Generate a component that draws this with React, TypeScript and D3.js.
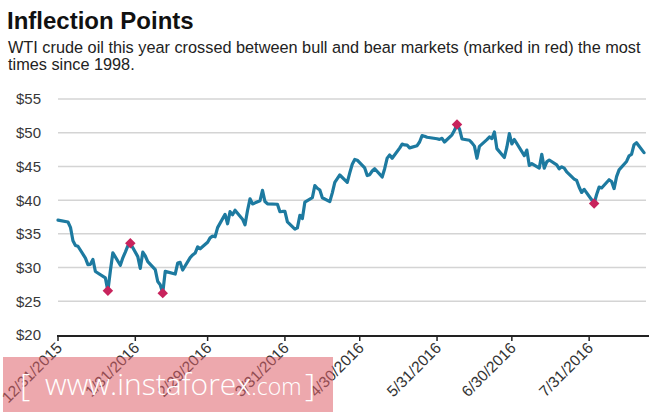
import React from 'react';
import * as d3 from 'd3';

// WTI front-month settle, 12/31/2015 - 8/22/2016
const dates = [
  '2015-12-31',
  '2016-01-04', '2016-01-05', '2016-01-06', '2016-01-07', '2016-01-08', '2016-01-11', '2016-01-12', '2016-01-13', '2016-01-14', '2016-01-15',
  '2016-01-19', '2016-01-20', '2016-01-21', '2016-01-22', '2016-01-25', '2016-01-26', '2016-01-27', '2016-01-28', '2016-01-29',
  '2016-02-01', '2016-02-02', '2016-02-03', '2016-02-04', '2016-02-05', '2016-02-08', '2016-02-09', '2016-02-10', '2016-02-11', '2016-02-12',
  '2016-02-16', '2016-02-17', '2016-02-18', '2016-02-19', '2016-02-22', '2016-02-23', '2016-02-24', '2016-02-25', '2016-02-26', '2016-02-29',
  '2016-03-01', '2016-03-02', '2016-03-03', '2016-03-04', '2016-03-07', '2016-03-08', '2016-03-09', '2016-03-10', '2016-03-11',
  '2016-03-14', '2016-03-15', '2016-03-16', '2016-03-17', '2016-03-18', '2016-03-21', '2016-03-22', '2016-03-23', '2016-03-24',
  '2016-03-28', '2016-03-29', '2016-03-30', '2016-03-31', '2016-04-01',
  '2016-04-04', '2016-04-05', '2016-04-06', '2016-04-07', '2016-04-08', '2016-04-11', '2016-04-12', '2016-04-13', '2016-04-14', '2016-04-15',
  '2016-04-18', '2016-04-19', '2016-04-20', '2016-04-21', '2016-04-22', '2016-04-25', '2016-04-26', '2016-04-27', '2016-04-28', '2016-04-29',
  '2016-05-02', '2016-05-03', '2016-05-04', '2016-05-05', '2016-05-06', '2016-05-09', '2016-05-10', '2016-05-11', '2016-05-12', '2016-05-13',
  '2016-05-16', '2016-05-17', '2016-05-18', '2016-05-19', '2016-05-20', '2016-05-23', '2016-05-24', '2016-05-25', '2016-05-26', '2016-05-27',
  '2016-05-31', '2016-06-01', '2016-06-02', '2016-06-03', '2016-06-06', '2016-06-07', '2016-06-08', '2016-06-09', '2016-06-10',
  '2016-06-13', '2016-06-14', '2016-06-15', '2016-06-16', '2016-06-17', '2016-06-20', '2016-06-21', '2016-06-22', '2016-06-23', '2016-06-24',
  '2016-06-27', '2016-06-28', '2016-06-29', '2016-06-30', '2016-07-01', '2016-07-05', '2016-07-06', '2016-07-07', '2016-07-08',
  '2016-07-11', '2016-07-12', '2016-07-13', '2016-07-14', '2016-07-15', '2016-07-18', '2016-07-19', '2016-07-20', '2016-07-21', '2016-07-22',
  '2016-07-25', '2016-07-26', '2016-07-27', '2016-07-28', '2016-07-29', '2016-08-01', '2016-08-02', '2016-08-03', '2016-08-04', '2016-08-05',
  '2016-08-08', '2016-08-09', '2016-08-10', '2016-08-11', '2016-08-12', '2016-08-15', '2016-08-16', '2016-08-17', '2016-08-18', '2016-08-19',
  '2016-08-22',
];

const prices = [
  37.04,
  36.76, 35.97, 33.97, 33.27, 33.16, 31.41, 30.44, 30.48, 31.2, 29.42,
  28.46, 26.55, 29.53, 32.19, 30.34, 31.45, 32.3, 33.22, 33.62,
  31.62, 29.88, 32.28, 31.72, 30.89, 29.69, 27.94, 27.45, 26.21, 29.44,
  29.04, 30.66, 30.77, 29.64, 31.48, 31.87, 32.15, 33.07, 32.78, 33.75,
  34.4, 34.66, 34.57, 35.92, 37.9, 36.5, 38.29, 37.84, 38.5,
  37.18, 36.34, 38.46, 40.2, 39.44, 39.91, 41.45, 39.79, 39.46,
  39.39, 38.28, 38.32, 38.34, 36.79,
  35.7, 35.89, 37.75, 37.26, 39.72, 40.36, 42.17, 41.76, 41.5, 40.36,
  39.78, 41.08, 42.63, 43.18, 43.73, 42.64, 44.04, 45.33, 46.03, 45.92,
  44.78, 43.65, 43.78, 44.32, 44.66, 43.44, 44.66, 46.23, 46.7, 46.21,
  47.72, 48.31, 48.19, 48.16, 47.75, 48.08, 48.62, 49.56, 49.48, 49.33,
  49.1, 49.01, 49.17, 48.62, 49.69, 50.36, 51.23, 50.56, 49.07,
  48.88, 48.49, 48.01, 46.21, 47.98, 48.97, 49.37, 49.13, 50.11, 47.64,
  46.33, 47.85, 49.88, 48.33, 48.99, 46.6, 47.43, 45.14, 45.41,
  44.76, 46.8, 44.75, 45.68, 45.95, 45.24, 44.65, 44.94, 44.75, 44.19,
  43.13, 42.92, 41.92, 41.14, 41.6, 40.06, 39.51, 40.83, 41.93, 41.8,
  43.02, 42.77, 41.71, 43.49, 44.49, 45.74, 46.58, 46.79, 48.22, 48.52,
  47.05,
];

// bull/bear crossings, marked in red
const markerDates = ['2016-01-20', '2016-01-29', '2016-02-11', '2016-06-08', '2016-08-02'];

const tickDates = ['2015-12-31', '2016-01-31', '2016-02-29', '2016-03-31', '2016-04-30', '2016-05-31', '2016-06-30', '2016-07-31'];
const yTicks = [20, 25, 30, 35, 40, 45, 50, 55];

const parse = d3.timeParse('%Y-%m-%d');
const key = d3.timeFormat('%Y-%m-%d');
const fmt = d3.timeFormat('%-m/%-d/%Y');

const W = 665;
const H = 415;

export default function App() {
  const data = dates.map((d, i) => ({ date: parse(d) as Date, value: prices[i] }));
  const marks = data.filter(d => markerDates.includes(key(d.date)));

  const x = d3.scaleTime()
    .domain([parse('2015-12-31') as Date, parse('2016-08-24') as Date])
    .range([58, 649]);
  const y = d3.scaleLinear().domain([20, 55]).range([335, 99]);

  const line = d3.line<{ date: Date; value: number }>()
    .x(d => x(d.date))
    .y(d => y(d.value));

  // square turned 45deg, as in the original markers
  const diamond = d3.symbol().type(d3.symbolSquare).size(55)();

  const font = 'Liberation Sans, Arial, sans-serif';
  const wm = 'Open Sans, sans-serif';

  return (
    <div style={{ position: 'absolute', left: 0, top: 0 }}>
      <svg width={W} height={H} style={{ display: 'block', background: '#fff' }} fontFamily={font}>
        <text x={7} y={29} fontSize={24} fontWeight="bold" fill="#111">Inflection Points</text>
        <text x={8} y={53} fontSize={16.3} fill="#222">
          WTI crude oil this year crossed between bull and bear markets (marked in red) the most
        </text>
        <text x={8} y={70} fontSize={16.3} fill="#222">times since 1998.</text>

        {yTicks.map(t => (
          <g key={t}>
            {t > 20 && (
              <line x1={58} x2={646} y1={y(t)} y2={y(t)} stroke="#d4d4d4" strokeWidth={1.5} />
            )}
            <text x={41} y={y(t)} dy="0.36em" textAnchor="end" fontSize={15} fill="#383838">
              ${t}
            </text>
          </g>
        ))}

        <line x1={57} x2={649} y1={336} y2={336} stroke="#222" strokeWidth={2} />
        {tickDates.map(s => {
          const d = parse(s) as Date;
          const tx = x(d);
          return (
            <g key={s}>
              <line x1={tx} x2={tx} y1={336} y2={341} stroke="#222" strokeWidth={1.5} />
              <text
                transform={`translate(${tx + 5},${349}) rotate(-45)`}
                textAnchor="end"
                fontSize={15.5}
                fill="#333"
              >
                {fmt(d)}
              </text>
            </g>
          );
        })}

        <path d={line(data) || ''} fill="none" stroke="#1d7aa0" strokeWidth={3.2} strokeLinejoin="round" strokeLinecap="round" />

        {marks.map(m => (
          <path
            key={m.date.getTime()}
            d={diamond || ''}
            transform={`translate(${x(m.date)},${y(m.value)}) rotate(45)`}
            fill="#c8235c"
          />
        ))}

        <rect x={3} y={357} width={330} height={55} fill="rgb(222,96,106)" fillOpacity={0.55} />
        <g fill="#fff" fontFamily={wm} fontWeight={300}>
          <text x={20} y={396} fontSize={32}>[</text>
          <text x={45} y={395}>
            <tspan fontSize={30}>www.instaforex</tspan>
            <tspan fontSize={23}>.com</tspan>
          </text>
          <text x={305} y={396} fontSize={32}>]</text>
        </g>
      </svg>
    </div>
  );
}
